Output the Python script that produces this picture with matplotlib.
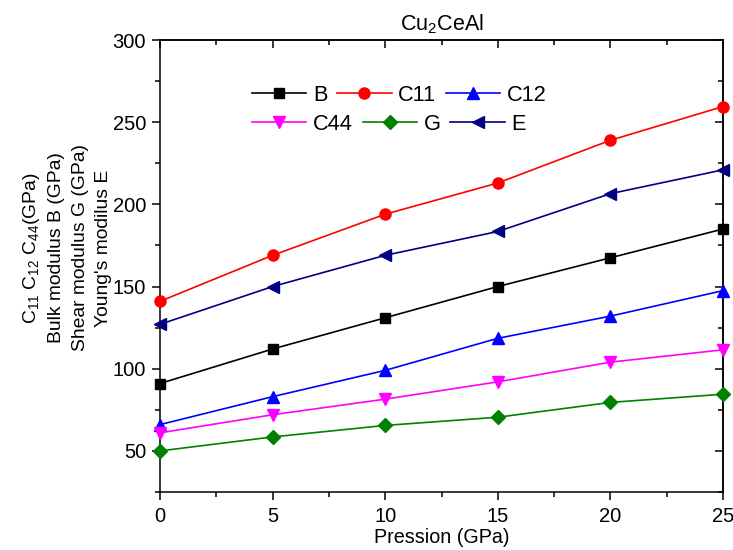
import numpy as np
import matplotlib
matplotlib.use("Agg")
import matplotlib.pyplot as plt
from matplotlib.ticker import MultipleLocator

plt.rcParams.update({
    "font.family": ["Liberation Sans", "DejaVu Sans"],
    "mathtext.fontset": "custom",
    "mathtext.rm": "Liberation Sans",
    "mathtext.it": "Liberation Sans",
    "axes.linewidth": 1.1,
})

# ---- data ----
pressure = [0, 5, 10, 15, 20, 25]
B = [91, 112, 131, 150, 167.5, 185]
C11 = [141, 169, 194, 213, 239, 259.5]
C12 = [66, 83, 99, 118.5, 132, 147.5]
C44 = [61, 72, 81.5, 92, 104, 111.5]
G = [50, 58.5, 65.5, 70.5, 79.5, 84.5]
E = [127, 150, 169, 183.5, 206.5, 221]

series = [
    ("B", B, "k", "s"),
    ("C11", C11, "#ff0000", "o"),
    ("C12", C12, "#0000ff", "^"),
    ("C44", C44, "#ff00ff", "v"),
    ("G", G, "#008000", "D"),
    ("E", E, "#000080", "<"),
]

fig = plt.figure(figsize=(7.33, 5.5), dpi=100)
ax = fig.add_axes([160 / 733, 58 / 550, 563 / 733, 452 / 550])

handles = []
for name, vals, col, mk in series:
    ms = {"s": 7.2, "D": 7, "o": 8}.get(mk, 8.5)
    h, = ax.plot(pressure, vals, color=col, marker=mk, ms=ms, lw=1.2,
                 label=name, clip_on=False, zorder=3)
    handles.append(h)

ax.set_xlim(0, 25)
ax.set_ylim(25, 300)
ax.xaxis.set_major_locator(MultipleLocator(5))
ax.xaxis.set_minor_locator(MultipleLocator(2.5))
ax.yaxis.set_major_locator(MultipleLocator(50))
ax.yaxis.set_minor_locator(MultipleLocator(25))
ax.yaxis.set_major_formatter(lambda v, p: "" if v == 25 else f"{v:.0f}")
ax.tick_params(which="major", direction="out", length=6, width=1.1,
               labelsize=14.5)
ax.tick_params(axis="y", which="major", pad=4)
ax.tick_params(axis="x", which="major", pad=5)
ax.tick_params(which="minor", direction="out", length=3.5, width=1.1)

# mirrored axes with inward ticks
top = ax.secondary_xaxis("top")
top.xaxis.set_major_locator(MultipleLocator(5))
top.xaxis.set_minor_locator(MultipleLocator(2.5))
top.tick_params(which="major", direction="in", length=6, width=1.1,
                labeltop=False)
top.tick_params(which="minor", direction="in", length=3.5, width=1.1)
right = ax.secondary_yaxis("right")
right.yaxis.set_major_locator(MultipleLocator(50))
right.yaxis.set_minor_locator(MultipleLocator(25))
right.tick_params(which="major", direction="in", length=6, width=1.1,
                  labelright=False)
right.tick_params(which="minor", direction="in", length=3.5, width=1.1)

ax.set_xlabel("Pression (GPa)", fontsize=14.2, labelpad=1)
ax.set_ylabel("C$_{11}$ C$_{12}$ C$_{44}$(GPa)\nBulk modulus B (GPa)\n"
              "Shear modulus G (GPa)\nYoung's modilus E",
              fontsize=13.9, linespacing=1.5)
ax.yaxis.set_label_coords(-0.085, 0.54)
ax.set_title("Cu$_2$CeAl", fontsize=15.5, pad=7)

leg_kw = dict(ncol=3, frameon=False, fontsize=15.7, handlelength=2.5,
              handletextpad=0.3, columnspacing=0.45, borderpad=0,
              borderaxespad=0, loc="center left")
leg1 = ax.legend(handles=handles[:3], bbox_to_anchor=(0.163, 0.878), **leg_kw)
ax.add_artist(leg1)
ax.legend(handles=handles[3:], bbox_to_anchor=(0.163, 0.814), **leg_kw)

fig.savefig("out.png", dpi=100)
